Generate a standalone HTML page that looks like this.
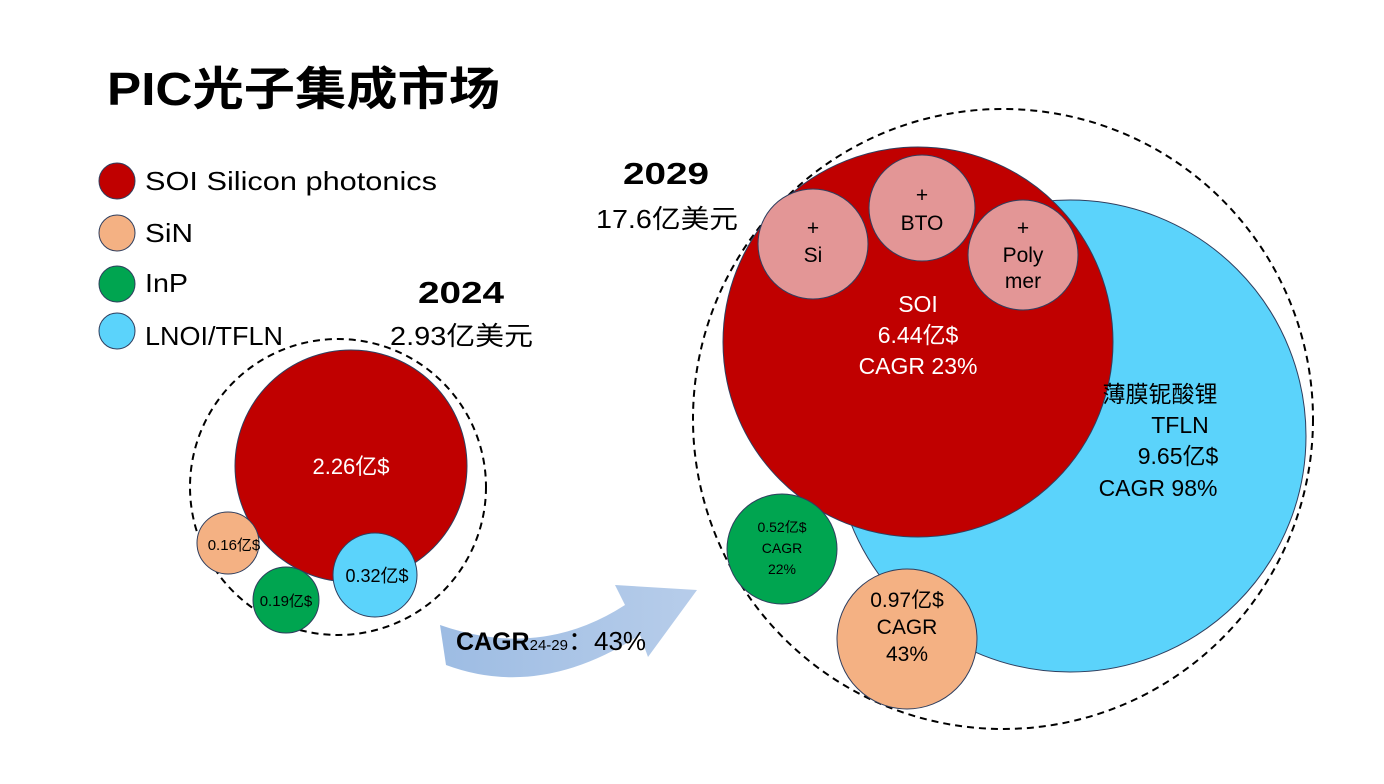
<!DOCTYPE html>
<html><head><meta charset="utf-8"><style>
body{margin:0;background:#fff;}
svg text{font-family:"Liberation Sans","Noto Sans CJK SC",sans-serif;}
</style></head><body>
<svg width="1384" height="779" viewBox="0 0 1384 779" xmlns="http://www.w3.org/2000/svg">
<defs><linearGradient id="g" x1="0" x2="1"><stop offset="0" stop-color="#9dbce3"/><stop offset="1" stop-color="#b7cdea"/></linearGradient></defs>
<text x="107" y="105" font-size="46" font-weight="bold" fill="#000" textLength="393" lengthAdjust="spacingAndGlyphs">PIC光子集成市场</text>
<circle cx="117" cy="181" r="18" fill="#c00000" stroke="#2f3e5e" stroke-width="1"/>
<circle cx="117" cy="233" r="18" fill="#f4b183" stroke="#2f3e5e" stroke-width="1"/>
<circle cx="117" cy="284" r="18" fill="#00a550" stroke="#2f3e5e" stroke-width="1"/>
<circle cx="117" cy="331" r="18" fill="#5bd3fb" stroke="#2f3e5e" stroke-width="1"/>
<text x="145" y="190" font-size="26" textLength="292" lengthAdjust="spacingAndGlyphs">SOI Silicon photonics</text>
<text x="145" y="242" font-size="26" textLength="48" lengthAdjust="spacingAndGlyphs">SiN</text>
<text x="145" y="292" font-size="26" textLength="43" lengthAdjust="spacingAndGlyphs">InP</text>
<text x="145" y="345" font-size="26" textLength="138" lengthAdjust="spacingAndGlyphs">LNOI/TFLN</text>
<text x="418" y="303" font-size="31" font-weight="bold" textLength="86" lengthAdjust="spacingAndGlyphs">2024</text>
<text x="390" y="345" font-size="26" textLength="143" lengthAdjust="spacingAndGlyphs">2.93亿美元</text>
<text x="623" y="184" font-size="31" font-weight="bold" textLength="86" lengthAdjust="spacingAndGlyphs">2029</text>
<text x="596" y="228" font-size="26" textLength="142" lengthAdjust="spacingAndGlyphs">17.6亿美元</text>
<circle cx="338" cy="487" r="148" fill="none" stroke="#000" stroke-width="2" stroke-dasharray="7,5"/>
<circle cx="351" cy="466" r="116" fill="#c00000" stroke="#2f3e5e" stroke-width="1"/>
<text x="351" y="474" font-size="22" fill="#fff" text-anchor="middle">2.26亿$</text>
<circle cx="228" cy="543" r="31" fill="#f4b183" stroke="#2f3e5e" stroke-width="1"/>
<text x="234" y="550" font-size="15" text-anchor="middle">0.16亿$</text>
<circle cx="286" cy="600" r="33" fill="#00a550" stroke="#2f3e5e" stroke-width="1"/>
<text x="286" y="606" font-size="15" text-anchor="middle">0.19亿$</text>
<circle cx="375" cy="575" r="42" fill="#5bd3fb" stroke="#2f3e5e" stroke-width="1"/>
<text x="377" y="582" font-size="18" text-anchor="middle">0.32亿$</text>
<path d="M440,625 Q540,660 625,605 L615,585 L697,590 L648,657 L640,635 Q540,700 446,665 Z" fill="url(#g)"/>
<text x="456" y="650" font-size="25" font-weight="bold">CAGR<tspan font-size="15" font-weight="normal">24-29</tspan><tspan font-weight="normal" font-size="26">：43%</tspan></text>
<circle cx="1003" cy="419" r="310" fill="none" stroke="#000" stroke-width="2" stroke-dasharray="7,5"/>
<circle cx="1070" cy="436" r="236" fill="#5bd3fb" stroke="#2f3e5e" stroke-width="1"/>
<circle cx="918" cy="342" r="195" fill="#c00000" stroke="#2f3e5e" stroke-width="1"/>
<circle cx="813" cy="244" r="55" fill="#e39696" stroke="#2f3e5e" stroke-width="1"/>
<circle cx="922" cy="208" r="53" fill="#e39696" stroke="#2f3e5e" stroke-width="1"/>
<circle cx="1023" cy="255" r="55" fill="#e39696" stroke="#2f3e5e" stroke-width="1"/>
<g font-size="21" text-anchor="middle">
<text x="813" y="235">+</text><text x="813" y="262">Si</text>
<text x="922" y="202">+</text><text x="922" y="230">BTO</text>
<text x="1023" y="235">+</text><text x="1023" y="262">Poly</text><text x="1023" y="288">mer</text>
</g>
<g font-size="23" fill="#fff" text-anchor="middle">
<text x="918" y="312">SOI</text><text x="918" y="343">6.44亿$</text><text x="918" y="374">CAGR 23%</text>
</g>
<g font-size="23" text-anchor="middle">
<text x="1160" y="402">薄膜铌酸锂</text><text x="1180" y="433">TFLN</text><text x="1178" y="464">9.65亿$</text><text x="1158" y="496">CAGR 98%</text>
</g>
<circle cx="782" cy="549" r="55" fill="#00a550" stroke="#2f3e5e" stroke-width="1"/>
<g font-size="14" text-anchor="middle"><text x="782" y="532">0.52亿$</text><text x="782" y="553">CAGR</text><text x="782" y="574">22%</text></g>
<circle cx="907" cy="639" r="70" fill="#f4b183" stroke="#2f3e5e" stroke-width="1"/>
<g font-size="21" text-anchor="middle"><text x="907" y="607">0.97亿$</text><text x="907" y="634">CAGR</text><text x="907" y="661">43%</text></g>
</svg>
</body></html>
